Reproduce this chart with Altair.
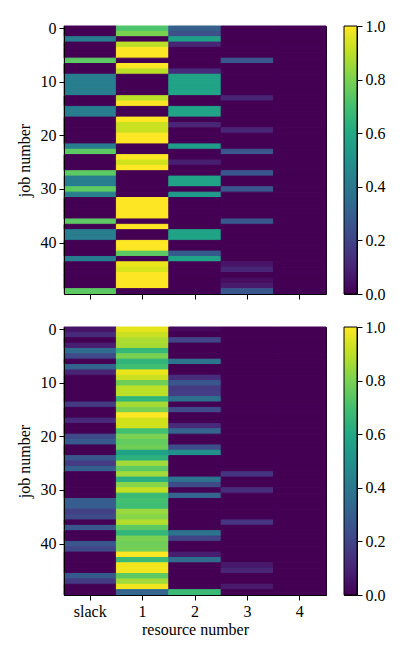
import altair as alt
import pandas as pd

resources = ["slack", "1", "2", "3", "4"]
jobs = list(range(50))

# ---- top heatmap (values per job 0..49) ----
top_slack = [0, 0, 0.42, 0, 0, 0, 0.75, 0, 0, 0.42,
             0.42, 0.42, 0.42, 0, 0, 0.42, 0.42, 0, 0, 0,
             0, 0, 0.42, 0.75, 0, 0, 0, 0.75, 0.42, 0.42,
             0.75, 0.42, 0, 0, 0, 0, 0.75, 0, 0.42, 0.42,
             0, 0, 0, 0.42, 0, 0, 0, 0, 0, 0.75]
top_r1 = [0.72, 0.8, 0, 0.9, 1.0, 1.0, 0, 1.0, 0.9, 0,
          0, 0, 0, 0.9, 1.0, 0, 0, 1.0, 0.92, 0.92,
          1.0, 1.0, 0, 0, 1.0, 0.93, 1.0, 0, 0, 0,
          0, 0, 1.0, 1.0, 1.0, 1.0, 0, 1.0, 0, 0,
          1.0, 1.0, 0.75, 0, 0.97, 0.94, 1.0, 1.0, 1.0, 0]
top_r2 = [0.3, 0.24, 0.57, 0.1, 0, 0, 0, 0, 0.12, 0.58,
          0.58, 0.58, 0.58, 0, 0, 0.58, 0.58, 0, 0.1, 0,
          0, 0, 0.56, 0, 0, 0.08, 0, 0, 0.58, 0.58,
          0, 0.55, 0, 0, 0, 0, 0, 0, 0.58, 0.58,
          0, 0, 0.28, 0.58, 0, 0, 0, 0, 0, 0]
top_r3 = [0, 0, 0, 0, 0, 0, 0.27, 0, 0, 0,
          0, 0, 0, 0.1, 0, 0, 0, 0, 0, 0.1,
          0, 0, 0, 0.27, 0, 0, 0, 0.27, 0, 0,
          0.27, 0, 0, 0, 0, 0, 0.27, 0, 0, 0,
          0, 0, 0, 0, 0.05, 0.1, 0, 0.03, 0.07, 0.27]
top_r4 = [0, 0, 0, 0, 0, 0, 0, 0, 0, 0,
          0, 0, 0, 0, 0, 0, 0, 0, 0, 0,
          0, 0, 0, 0, 0, 0, 0, 0, 0, 0,
          0, 0, 0, 0, 0, 0, 0, 0, 0, 0,
          0, 0, 0, 0, 0, 0, 0, 0, 0, 0]

# ---- bottom heatmap ----
bot_slack = [0.05, 0.12, 0, 0.08, 0.35, 0.22, 0, 0.32, 0.1, 0,
             0, 0, 0, 0, 0.17, 0, 0, 0.12, 0, 0,
             0.22, 0.28, 0, 0, 0.27, 0.17, 0.3, 0, 0, 0,
             0, 0, 0.29, 0.29, 0.19, 0.22, 0, 0.27, 0, 0,
             0.27, 0.21, 0, 0, 0, 0, 0.28, 0.17, 0, 0]
bot_r1 = [0.96, 0.92, 0.88, 0.87, 0.67, 0.8, 0.65, 0.69, 0.97, 0.92,
          0.78, 0.9, 0.9, 0.66, 0.87, 0.8, 1.0, 0.93, 0.93, 0.7,
          0.8, 0.76, 0.78, 0.57, 0.64, 0.86, 0.75, 0.86, 0.63, 0.82,
          0.91, 0.68, 0.7, 0.69, 0.85, 0.82, 0.89, 0.75, 0.66, 0.8,
          0.78, 0.79, 1.0, 0.68, 0.98, 0.98, 0.75, 0.86, 0.98, 0.32]
bot_r2 = [0.02, 0, 0.2, 0, 0, 0, 0.38, 0, 0, 0.13,
          0.27, 0.17, 0.18, 0.37, 0, 0.22, 0, 0, 0.12, 0.32,
          0, 0, 0.23, 0.5, 0, 0, 0, 0, 0.38, 0.22,
          0, 0.32, 0, 0, 0, 0, 0, 0, 0.38, 0.2,
          0, 0, 0.08, 0.35, 0, 0, 0, 0, 0, 0.68]
bot_r3 = [0, 0, 0, 0, 0, 0, 0, 0, 0, 0,
          0, 0, 0, 0, 0, 0, 0, 0, 0, 0,
          0, 0, 0, 0, 0, 0, 0, 0.15, 0, 0,
          0.13, 0, 0, 0, 0, 0, 0.15, 0, 0, 0,
          0, 0, 0, 0, 0.06, 0.1, 0, 0, 0.07, 0]
bot_r4 = [0, 0, 0, 0, 0, 0, 0, 0, 0, 0,
          0, 0, 0, 0, 0, 0, 0, 0, 0, 0,
          0, 0, 0, 0, 0, 0, 0, 0, 0, 0,
          0, 0, 0, 0, 0, 0, 0, 0, 0, 0,
          0, 0, 0, 0, 0, 0, 0, 0, 0, 0]

y_ticks = [0, 10, 20, 30, 40]
cbar_ticks = [0.0, 0.2, 0.4, 0.6, 0.8, 1.0]
viridis = ["#440154", "#482475", "#414487", "#355f8d", "#2a788e", "#21918c",
           "#22a884", "#44bf70", "#7ad151", "#bddf26", "#fde725"]

FONT = "Liberation Serif"
FS = 16
W, H = 262, 268


def long_df(cols):
    rows = []
    for res, vals in zip(resources, cols):
        for j, v in zip(jobs, vals):
            rows.append({"resource": res, "job": j, "value": v})
    return pd.DataFrame(rows)


def heat(df, bottom):
    cscale = alt.Scale(scheme="viridis", domain=[0, 1])
    return alt.Chart(df).mark_rect(strokeWidth=1).encode(
        x=alt.X("resource:O", sort=resources,
                scale=alt.Scale(paddingInner=0, paddingOuter=0),
                axis=alt.Axis(title="resource number" if bottom else None,
                              labels=bottom, labelAngle=0, titlePadding=2)),
        y=alt.Y("job:O", sort=jobs,
                scale=alt.Scale(paddingInner=0, paddingOuter=0),
                axis=alt.Axis(values=y_ticks, title="job number", titlePadding=8)),
        color=alt.Color("value:Q", scale=cscale, legend=None),
        stroke=alt.Stroke("value:Q", scale=cscale, legend=None),
    ).properties(width=W, height=H)


def colorbar():
    cb_df = pd.DataFrame({"lo": [0.0], "hi": [1.0]})
    grad = alt.Gradient(
        gradient="linear",
        stops=[alt.GradientStop(color=c, offset=i / (len(viridis) - 1))
               for i, c in enumerate(viridis)],
        x1=0, x2=0, y1=1, y2=0)
    return alt.Chart(cb_df).mark_rect(fill=grad, stroke="black", strokeWidth=1).encode(
        y=alt.Y("lo:Q", scale=alt.Scale(domain=[0, 1], nice=False),
                axis=alt.Axis(orient="right", values=cbar_ticks, format=".1f",
                              title=None, domain=False, labelPadding=3)),
        y2="hi:Q",
        x=alt.value(0), x2=alt.value(13),
    ).properties(width=13, height=H)


top = alt.hconcat(heat(long_df([top_slack, top_r1, top_r2, top_r3, top_r4]), False),
                  colorbar(), spacing=16)
bot = alt.hconcat(heat(long_df([bot_slack, bot_r1, bot_r2, bot_r3, bot_r4]), True),
                  colorbar(), spacing=16)

chart = alt.vconcat(top, bot, spacing=15).properties(
    padding={"top": 9, "left": 7, "right": 5, "bottom": 5}
).configure(font=FONT).configure_view(
    stroke="black", strokeWidth=1
).configure_axis(
    labelFont=FONT, titleFont=FONT, labelFontSize=FS, titleFontSize=FS,
    labelColor="black", titleColor="black", titleFontWeight="normal",
    domainColor="black", tickColor="black", tickSize=5, grid=False,
    labelPadding=3
)

chart.save("out.html", embed_options={"renderer": "svg", "actions": False})
